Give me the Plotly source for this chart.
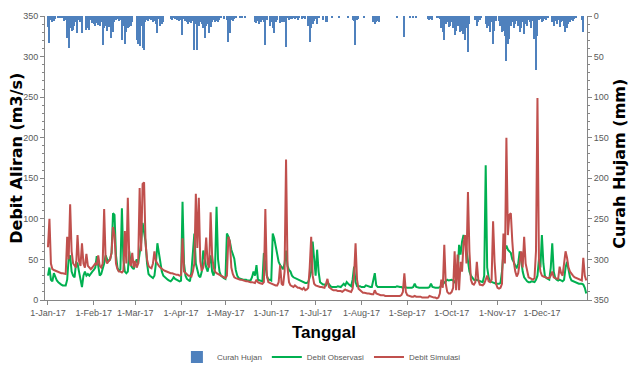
import plotly.graph_objects as go
import pandas as pd

# ---------------- data (daily, 2017) ----------------
dates = pd.date_range("2017-01-01", "2017-12-31", freq="D")

rain_jan = [13,33,5,7,6,4,0,3,3,2,3,6,5,27,39,15,18,17,12,8,21,5,8,21,0,0,17,15,17,5,9]
rain_feb = [10,12,9,11,12,8,36,15,12,18,14,10,27,20,8,5,4,6,5,30,12,34,20,15,14,12,8,0]
rain_mar = [0,30,35,37,12,40,42,8,5,6,4,5,7,6,10,21,4,12,10,8,0,0,0,0,4,5,3,4,5,3,6]
rain_apr = [5,23,4,6,8,10,7,9,6,42,10,42,12,8,10,15,27,12,10,21,14,8,5,8,6,8,5,3,0,4]
rain_may = [0,5,32,21,5,6,4,3,0,0,2,3,0,3,0,0,0,0,0,0,8,9,6,10,7,5,8,36,5,0,12]
rain_jun = [8,15,21,7,5,0,9,8,6,7,38,3,5,4,4,3,4,3,5,3,0,4,3,4,0,12,32,15,10,6]
rain_jul = [4,10,3,0,0,5,0,8,7,0,0,2,0,0,0,0,2,0,0,0,0,0,2,0,0,5,6,36,5,4,0]
rain_aug = [0,0,2,0,0,0,0,0,8,10,7,6,8,0,0,0,0,0,0,0,0,0,0,0,2,0,0,0,0,26,0]
rain_sep = [0,0,2,0,2,0,2,0,0,0,0,0,0,0,4,5,4,5,0,0,3,2,4,15,20,29,10,8,14,12]
rain_oct = [8,15,24,18,12,6,20,18,22,30,15,44,10,0,0,0,5,12,8,5,3,0,0,10,15,12,20,8,34,18,6]
rain_nov = [0,6,12,20,18,25,56,34,28,12,8,15,10,6,12,20,15,8,22,10,12,5,8,15,6,28,66,25,5,4]
rain_dec = [8,6,4,5,3,0,0,8,12,6,10,5,14,8,6,12,20,15,10,8,5,6,4,2,0,0,0,5,20,0,0]

obs_jan = [30,40,25,23,33,28,24,22,20,19,18,18,18,25,51,55,35,30,28,46,45,35,25,16,30,35,30,32,30,33,35]
obs_feb = [37,40,54,42,30,32,38,45,55,50,48,50,58,107,105,55,40,35,38,113,50,35,33,35,60,43,40,38]
obs_mar = [45,50,45,60,70,95,80,72,45,32,30,28,27,30,45,70,59,45,35,30,28,26,25,24,23,25,28,26,25,24,23]
obs_apr = [24,121,45,30,26,24,23,35,60,82,45,35,30,28,35,61,50,40,35,45,55,35,30,40,115,50,35,30,28,27]
obs_may = [26,82,78,72,62,55,51,37,30,27,26,26,25,25,25,24,24,24,28,35,30,43,25,24,24,23,58,40,30,25,25]
obs_jun = [24,82,76,66,53,47,43,41,38,45,61,42,37,35,30,28,27,26,25,24,23,22,22,21,21,22,28,35,72,45]
obs_jul = [30,62,35,22,20,19,19,18,22,19,17,16,16,16,16,17,16,16,18,20,18,22,20,18,17,25,41,22,17,17,17]
obs_aug = [16,16,16,18,17,16,16,16,25,33,18,16,16,16,16,16,16,16,16,16,16,16,16,16,17,16,16,16,15,16,15]
obs_sep = [15,15,15,15,16,20,16,15,15,15,15,15,15,15,15,16,20,16,15,15,15,15,16,18,20,22,24,25,24,25]
obs_oct = [25,24,22,25,30,68,56,72,80,75,60,45,35,30,27,25,24,25,24,23,22,22,30,166,40,28,23,22,22,21,20]
obs_nov = [20,20,21,35,58,64,67,62,60,58,50,47,42,40,45,60,50,35,28,25,23,22,22,23,22,22,25,30,50,40]
obs_dec = [80,45,30,27,26,25,40,70,35,27,25,24,25,24,23,25,40,47,35,28,24,23,22,22,21,20,20,20,19,15,8]

sim_jan = [65,100,45,38,37,36,35,35,34,33,33,32,32,78,50,118,60,45,42,40,80,48,42,70,45,40,57,42,40,38,40]
sim_feb = [42,45,43,55,42,40,45,112,50,45,48,50,58,90,80,45,38,35,35,34,36,85,45,126,50,42,58,40]
sim_mar = [48,40,45,138,60,143,145,70,50,42,40,39,45,60,48,44,42,40,38,37,36,35,35,34,33,33,32,32,31,31,30]
sim_apr = [31,76,35,33,31,30,30,29,35,45,131,64,126,48,36,40,50,77,45,40,108,55,40,35,33,32,31,30,29,28]
sim_may = [27,30,78,72,40,32,28,27,26,26,25,25,24,24,23,23,22,22,22,21,21,25,22,21,20,20,22,112,30,22,21]
sim_jun = [20,19,19,18,18,22,43,20,18,35,173,40,22,18,17,16,18,16,15,15,14,13,15,12,13,15,40,78,30,20]
sim_jul = [18,17,17,16,16,15,15,20,26,16,14,13,12,12,12,11,11,11,10,11,13,12,11,10,10,14,30,70,25,14,12]
sim_aug = [10,9,9,8,8,8,7,7,7,12,8,7,6,6,6,6,5,5,5,5,5,5,5,5,5,5,5,6,10,33,10]
sim_sep = [6,5,5,4,4,5,4,4,4,4,3,3,3,3,3,5,4,3,3,3,2,3,8,25,15,68,20,10,8,8]
sim_oct = [10,15,60,12,56,12,47,35,70,80,45,133,60,25,20,19,22,47,25,19,18,18,20,25,30,23,22,25,97,47,20]
sim_nov = [15,14,15,20,82,45,200,80,105,107,72,47,35,29,33,45,60,40,78,45,35,28,27,26,25,27,60,249,50,35]
sim_dec = [30,29,28,28,27,27,30,35,28,27,26,26,41,33,30,45,60,52,40,35,32,30,28,27,26,25,25,24,52,30,24]

rain = rain_jan + rain_feb + rain_mar + rain_apr + rain_may + rain_jun + rain_jul + rain_aug + rain_sep + rain_oct + rain_nov + rain_dec
obs = obs_jan + obs_feb + obs_mar + obs_apr + obs_may + obs_jun + obs_jul + obs_aug + obs_sep + obs_oct + obs_nov + obs_dec
sim = sim_jan + sim_feb + sim_mar + sim_apr + sim_may + sim_jun + sim_jul + sim_aug + sim_sep + sim_oct + sim_nov + sim_dec

tick_dates = ["2017-%02d-01" % m for m in range(1, 13)]
tick_text = ["1-Jan-17", "1-Feb-17", "1-Mar-17", "1-Apr-17", "1-May-17", "1-Jun-17",
             "1-Jul-17", "1-Aug-17", "1-Sep-17", "1-Oct-17", "1-Nov-17", "1-Dec-17"]

# ---------------- figure ----------------
NARROW = "Liberation Sans Narrow, Arial Narrow, sans-serif"
TITLEFONT = "DejaVu Sans, Verdana, sans-serif"
TICKFONT = dict(family=NARROW, size=9, color="#595959")
fig = go.Figure()
fig.add_trace(go.Bar(x=dates[:len(rain)], y=rain, name="Curah Hujan", yaxis="y2",
                     marker=dict(color="#4F81BD", line=dict(width=0)), width=0.8 * 86400000))
fig.add_trace(go.Scatter(x=dates[:len(obs)], y=obs, name="Debit Observasi", mode="lines",
                         line=dict(color="#00B050", width=2)))
fig.add_trace(go.Scatter(x=dates[:len(sim)], y=sim, name="Debit Simulasi", mode="lines",
                         line=dict(color="#C0504D", width=2)))

fig.update_layout(
    width=633, height=369,
    margin=dict(l=45, r=46, t=16, b=69, autoexpand=False),
    paper_bgcolor="white", plot_bgcolor="white",
    showlegend=True,
    legend=dict(orientation="h", x=0.51, xanchor="center", y=-0.15, yanchor="top",
                font=dict(family=NARROW, size=8, color="#595959"),
                traceorder="normal", itemwidth=30, tracegroupgap=0),
    bargap=0,
    xaxis=dict(type="date", range=["2016-12-30 00:00", "2017-12-31 12:00"],
               tickvals=tick_dates, ticktext=tick_text, tickfont=TICKFONT, tickangle=0,
               showgrid=False, zeroline=False, showline=True, linecolor="#868686", linewidth=1,
               ticks="outside", ticklen=4, tickcolor="#868686"),
    yaxis=dict(range=[0, 350], dtick=50, tickfont=TICKFONT, showgrid=False, zeroline=False,
               showline=True, linecolor="#868686", linewidth=1, ticks="outside", ticklen=4,
               tickcolor="#868686",
               minor=dict(dtick=10, ticks="outside", ticklen=2, tickcolor="#868686")),
    yaxis2=dict(range=[350, 0], dtick=50, overlaying="y", side="right", tickfont=TICKFONT,
                showgrid=False, zeroline=False, showline=True, linecolor="#868686", linewidth=1,
                ticks="outside", ticklen=4, tickcolor="#868686",
                minor=dict(dtick=10, ticks="outside", ticklen=2, tickcolor="#868686")),
    annotations=[
        dict(text="<b>Debit Aliran (m3/s)</b>", xref="paper", yref="paper", x=-0.054, y=0.5,
             textangle=-90, showarrow=False, xanchor="center", yanchor="middle",
             font=dict(family=TITLEFONT, size=16, color="#000000")),
        dict(text="<b>Curah Hujam (mm)</b>", xref="paper", yref="paper", x=1.061, y=0.48,
             textangle=-90, showarrow=False, xanchor="center", yanchor="middle",
             font=dict(family=TITLEFONT, size=16, color="#000000")),
        dict(text="<b>Tanggal</b>", xref="paper", yref="paper", x=0.515, y=-0.116,
             showarrow=False, xanchor="center", yanchor="middle",
             font=dict(family=NARROW, size=17, color="#000000")),
    ],
)

fig.write_html("out.html")
